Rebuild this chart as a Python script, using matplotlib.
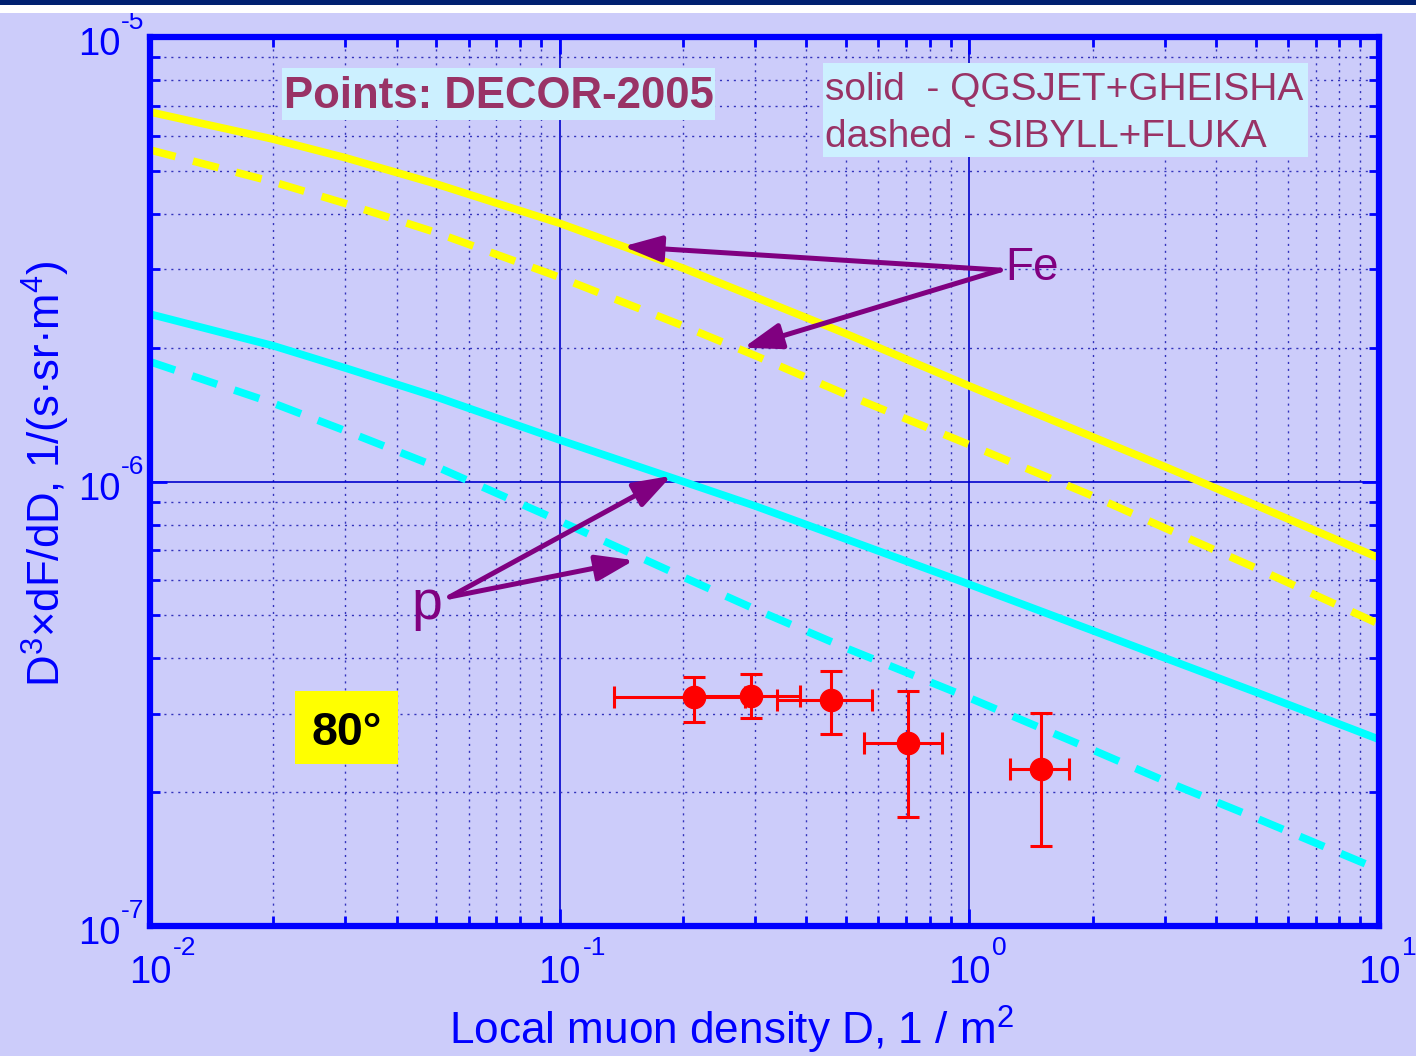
import numpy as np
import matplotlib
matplotlib.use("Agg")
import matplotlib.pyplot as plt
from matplotlib.patches import Rectangle
from matplotlib.transforms import blended_transform_factory, offset_copy

plt.rcParams['font.family'] = ['Liberation Sans', 'DejaVu Sans']
plt.rcParams['mathtext.fontset'] = 'custom'
plt.rcParams['mathtext.rm'] = 'Liberation Sans'
plt.rcParams['mathtext.it'] = 'Liberation Sans:italic'
plt.rcParams['mathtext.bf'] = 'Liberation Sans:bold'
plt.rcParams['lines.scale_dashes'] = False

# local muon density grid for the model curves, 1/m^2
D = [0.01, 0.02, 0.03, 0.05, 0.1, 0.2, 0.3, 0.5, 1.0, 2.0, 3.0, 5.0, 10.0]

# Fe primaries
fe_qgsjet = [6.78e-6, 5.89e-6, 5.35e-6, 4.67e-6, 3.81e-6, 3.02e-6, 2.60e-6,
             2.15e-6, 1.64e-6, 1.26e-6, 1.08e-6, 8.85e-7, 6.73e-7]
fe_sibyll = [5.57e-6, 4.72e-6, 4.22e-6, 3.63e-6, 2.88e-6, 2.24e-6, 1.92e-6,
             1.57e-6, 1.21e-6, 9.28e-7, 7.86e-7, 6.39e-7, 4.78e-7]
# proton primaries
p_qgsjet = [2.38e-6, 2.02e-6, 1.80e-6, 1.55e-6, 1.24e-6, 1.00e-6, 8.81e-7,
            7.42e-7, 5.87e-7, 4.62e-7, 4.01e-7, 3.36e-7, 2.63e-7]
p_sibyll = [1.86e-6, 1.50e-6, 1.30e-6, 1.08e-6, 8.15e-7, 6.10e-7, 5.16e-7,
            4.22e-7, 3.26e-7, 2.49e-7, 2.12e-7, 1.75e-7, 1.34e-7]

# DECOR-2005, 80 deg
decor_D = [0.213, 0.293, 0.459, 0.707, 1.499]
decor_D_lo = [0.136, 0.213, 0.340, 0.554, 1.254]
decor_D_hi = [0.283, 0.386, 0.578, 0.860, 1.750]
decor_F = [3.27e-7, 3.30e-7, 3.22e-7, 2.58e-7, 2.26e-7]
decor_F_lo = [2.88e-7, 2.93e-7, 2.70e-7, 1.76e-7, 1.51e-7]
decor_F_hi = [3.64e-7, 3.69e-7, 3.74e-7, 3.38e-7, 3.01e-7]

x_majors = [1e-2, 1e-1, 1e0, 1e1]
x_exps = ['-2', '-1', '0', '1']
y_majors = [1e-7, 1e-6, 1e-5]
y_exps = ['-7', '-6', '-5']

bg = '#ccccfa'
blue = '#0000ff'
purple = '#800080'
maroon = '#993366'
box_cyan = '#ccf0ff'

fig = plt.figure(figsize=(14.16, 10.56), dpi=100, facecolor=bg)
# slide header strips
fig.patches.append(Rectangle((0, 1 - 5/1056), 1, 5/1056, transform=fig.transFigure,
                             facecolor='#002070', edgecolor='none'))
fig.patches.append(Rectangle((0, 1 - 13/1056), 1, 8/1056, transform=fig.transFigure,
                             facecolor='white', edgecolor='none'))

ax = fig.add_axes([150/1416, 1 - 926/1056, 1229/1416, 889/1056])
ax.set_facecolor(bg)
ax.set_xscale('log')
ax.set_yscale('log')
ax.set_xlim(1e-2, 1e1)
ax.set_ylim(1e-7, 1e-5)

ax.grid(True, which='major', color='#0000cc', lw=1.2, ls='-')
ax.grid(True, which='minor', color='#3333bb', lw=1.0, ls=(0, (1.5, 3.5)))
ax.set_axisbelow(True)

lw = 5.5
dash = (19, 13)
ax.plot(D, fe_qgsjet, color='#ffff00', lw=lw)
ax.plot(D, fe_sibyll, color='#ffff00', lw=lw, dashes=dash)
ax.plot(D, p_qgsjet, color='#00ffff', lw=lw)
ax.plot(D, p_sibyll, color='#00ffff', lw=lw, dashes=dash)

xerr = [np.array(decor_D) - np.array(decor_D_lo), np.array(decor_D_hi) - np.array(decor_D)]
yerr = [np.array(decor_F) - np.array(decor_F_lo), np.array(decor_F_hi) - np.array(decor_F)]
ax.errorbar(decor_D, decor_F, xerr=xerr, yerr=yerr, fmt='o', color='#ff0000',
            ms=16, elinewidth=2.2, capsize=8, capthick=2.2, zorder=5)

for sp in ax.spines.values():
    sp.set_color(blue)
    sp.set_linewidth(4.5)
    sp.set_zorder(6)

ax.tick_params(which='both', direction='in', top=True, right=True,
               colors=blue, width=2, labelbottom=False, labelleft=False)
ax.tick_params(which='major', length=12)
ax.tick_params(which='minor', length=7)
ax.set_xticks(x_majors)
ax.set_yticks(y_majors)

# MATLAB-style "10" with a raised exponent
tx = blended_transform_factory(ax.transData, ax.transAxes)
for v, e in zip(x_majors, x_exps):
    ax.text(v, 0, '10', transform=offset_copy(tx, fig=fig, x=0, y=-47, units='dots'),
            fontsize=27.5, color=blue, ha='center', va='center', clip_on=False)
    ax.text(v, 0, e, transform=offset_copy(tx, fig=fig, x=23, y=-22, units='dots'),
            fontsize=19, color=blue, ha='left', va='center', clip_on=False)
ty = blended_transform_factory(ax.transAxes, ax.transData)
for v, e in zip(y_majors, y_exps):
    ax.text(0, v, '10', transform=offset_copy(ty, fig=fig, x=-29, y=-8, units='dots'),
            fontsize=27.5, color=blue, ha='right', va='center', clip_on=False)
    ax.text(0, v, e, transform=offset_copy(ty, fig=fig, x=-29, y=15, units='dots'),
            fontsize=19, color=blue, ha='left', va='center', clip_on=False)

fig.text(731/1416, 1 - 1030/1056, r'Local muon density D, 1 / m$^2$',
         color=blue, fontsize=31.8, ha='center', va='center')
fig.text(46/1416, 1 - 474/1056, r'D$^3$×dF/dD, 1/(s·sr·m$^4$)',
         color=blue, fontsize=31.5, ha='center', va='center', rotation=90)

# text panels
ax.add_patch(Rectangle((0.1070, 0.9066), 0.3526, 0.0582, transform=ax.transAxes,
                       facecolor=box_cyan, edgecolor='none', zorder=7))
ax.text(0.1090, 0.9198, 'Points: DECOR-2005', transform=ax.transAxes,
        fontsize=31.5, fontweight='bold', color=maroon, ha='left', va='baseline', zorder=8)

ax.add_patch(Rectangle((0.5474, 0.8653), 0.3951, 0.1051, transform=ax.transAxes,
                       facecolor=box_cyan, edgecolor='none', zorder=7))
ax.text(0.5492, 0.9291, 'solid  - QGSJET+GHEISHA', transform=ax.transAxes,
        fontsize=28, color=maroon, ha='left', va='baseline', zorder=8)
ax.text(0.5492, 0.8765, 'dashed - SIBYLL+FLUKA', transform=ax.transAxes,
        fontsize=28, color=maroon, ha='left', va='baseline', zorder=8)

ax.add_patch(Rectangle((0.1180, 0.1822), 0.0838, 0.0821, transform=ax.transAxes,
                       facecolor='#ffff00', edgecolor='none', zorder=7))
ax.text(0.160, 0.2036, '80°', transform=ax.transAxes, fontsize=33.5,
        fontweight='bold', color='black', ha='center', va='baseline', zorder=8)

arrow = dict(arrowstyle='-|>,head_length=1.05,head_width=0.36', color=purple,
             lw=3.6, shrinkA=0, shrinkB=0, mutation_scale=22)
fe_tail = (1.19, 2.99e-6)
ax.annotate('', xy=(0.143, 3.38e-6), xytext=fe_tail, arrowprops=arrow)
ax.annotate('', xy=(0.281, 2.00e-6), xytext=fe_tail, arrowprops=arrow)
ax.text(1.221, 2.84e-6, 'Fe', fontsize=33, color=purple, ha='left', va='baseline')

p_tail = (0.0539, 5.50e-7)
ax.annotate('', xy=(0.1875, 1.03e-6), xytext=p_tail, arrowprops=arrow)
ax.annotate('', xy=(0.152, 6.65e-7), xytext=p_tail, arrowprops=arrow)
ax.text(0.04745, 4.905e-7, 'p', fontsize=40, color=purple, ha='center', va='baseline')

# left-hand ticks are black, the others stay blue
fig.canvas.draw()
for t in ax.yaxis.get_major_ticks() + ax.yaxis.get_minor_ticks():
    t.tick1line.set_color('black')

fig.savefig('out.png', dpi=100, facecolor=bg)
